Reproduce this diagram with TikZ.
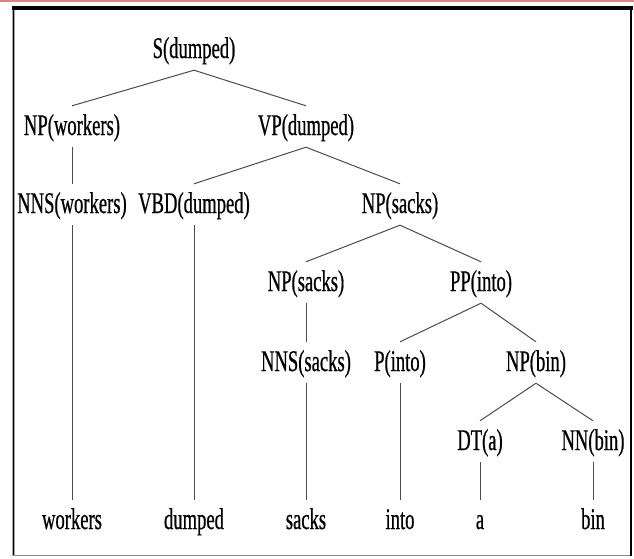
\documentclass[tikz,border=0pt]{standalone}
\usepackage{fontspec}
\setmainfont[FakeStretch=0.62, FakeBold=0.6]{Liberation Serif}
\usepackage{xcolor}
\definecolor{edgered}{RGB}{224,130,130}
\usepackage{tikz}
\usetikzlibrary{positioning}

\begin{document}
\begin{tikzpicture}[
        x=1pt, y=1pt,
        label/.style={inner xsep=0pt, inner ysep=5pt, text height=24pt, text depth=7pt, anchor=base, font=\fontsize{30}{36}\selectfont},
        edge/.style={draw=black!70, line width=1pt}
    ]
        \useasboundingbox (0,0) rectangle (634,-558);
        \fill[white] (0,0) rectangle (634,-558);

        % Frame
        \draw[edgered, line width=1.6pt] (0,-0.8) -- (634,-0.8);
        \draw[black!35, line width=3pt] (13.5,-6) -- (13.5,-556);
        \draw[black, line width=1pt] (13.5,-6) -- (13.5,-556);
        \draw[black!45, line width=1pt] (12,-555.5) -- (632,-555.5);
        \draw[black, line width=2pt] (631,-6) -- (631,-556);
        \draw[black, line width=4pt] (12,-7.5) -- (633,-7.5);

        % Tree nodes
        \node[label] (s) at (194,-58) {S(dumped)};
        \node[label] (npw) at (72,-135) {NP(workers)};
        \node[label] (vp) at (306,-135) {VP(dumped)};
        \node[label] (nnsw) at (72,-213) {NNS(workers)};
        \node[label] (vbd) at (194,-213) {VBD(dumped)};
        \node[label] (nps) at (400,-213) {NP(sacks)};
        \node[label] (npsi) at (306,-291) {NP(sacks)};
        \node[label] (pp) at (481,-291) {PP(into)};
        \node[label] (nnss) at (306,-371) {NNS(sacks)};
        \node[label] (pin) at (400,-371) {P(into)};
        \node[label] (npb) at (536,-371) {NP(bin)};
        \node[label] (dt) at (480,-450) {DT(a)};
        \node[label] (nnb) at (593,-450) {NN(bin)};

        % Words
        \node[label] (wworkers) at (72,-529) {workers};
        \node[label] (wdumped) at (194,-529) {dumped};
        \node[label] (wsacks) at (306,-529) {sacks};
        \node[label] (winto) at (400,-529) {into};
        \node[label] (wa) at (480,-529) {a};
        \node[label] (wbin) at (593,-529) {bin};

        % Branches
        \draw[edge] (s.south) -- (npw.north);
        \draw[edge] (s.south) -- (vp.north);
        \draw[edge] (npw.south) -- (nnsw.north);
        \draw[edge] (vp.south) -- (vbd.north);
        \draw[edge] (vp.south) -- (nps.north);
        \draw[edge] (nps.south) -- (npsi.north);
        \draw[edge] (nps.south) -- (pp.north);
        \draw[edge] (npsi.south) -- (nnss.north);
        \draw[edge] (pp.south) -- (pin.north);
        \draw[edge] (pp.south) -- (npb.north);
        \draw[edge] (npb.south) -- (dt.north);
        \draw[edge] (npb.south) -- (nnb.north);

        % Leaves
        \draw[edge] (nnsw.south) -- (wworkers.north);
        \draw[edge] (vbd.south) -- (wdumped.north);
        \draw[edge] (nnss.south) -- (wsacks.north);
        \draw[edge] (pin.south) -- (winto.north);
        \draw[edge] (dt.south) -- (wa.north);
        \draw[edge] (nnb.south) -- (wbin.north);
    \end{tikzpicture}
\end{document}
